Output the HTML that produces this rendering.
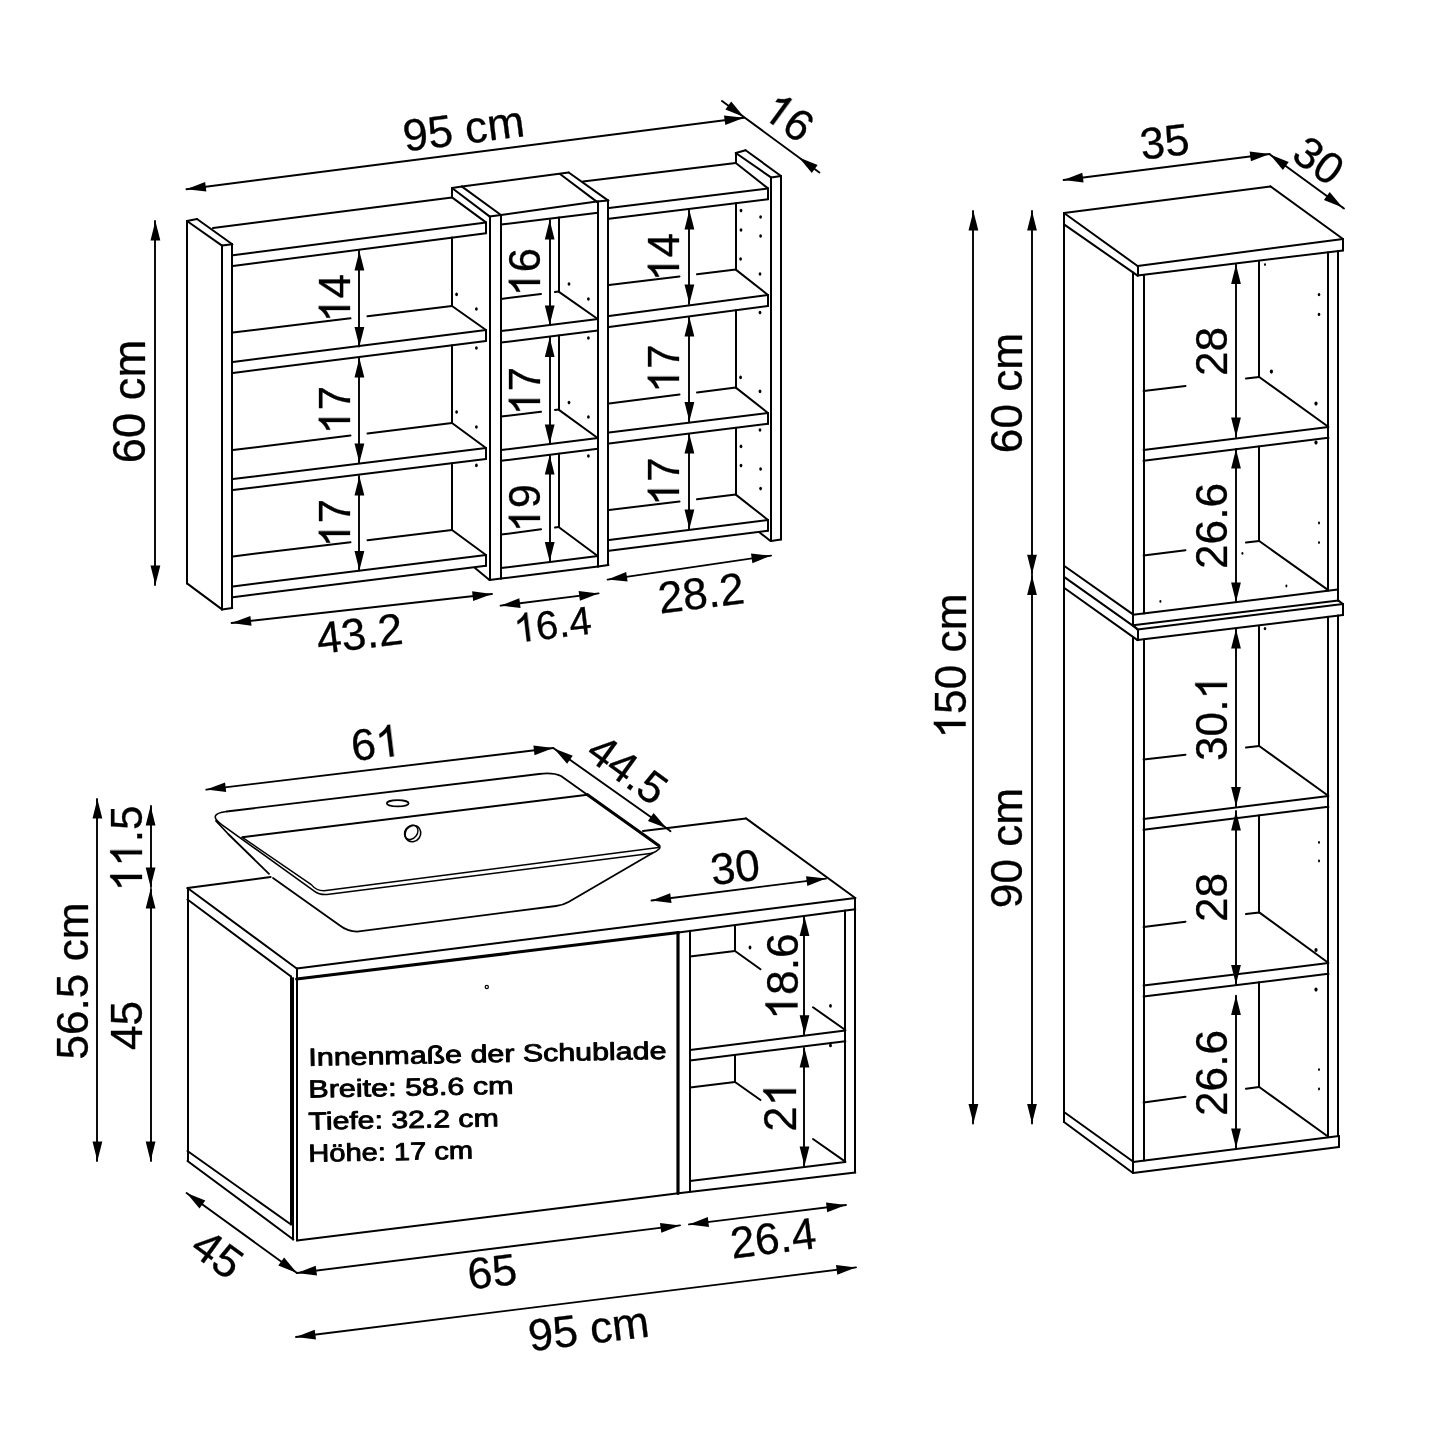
<!DOCTYPE html>
<html lang="de"><head><meta charset="utf-8"><title>Maße</title>
<style>
html,body{margin:0;padding:0;background:#fff}
svg{display:block;will-change:transform}
text{font-family:"Liberation Sans",sans-serif;fill:#000;white-space:pre}
</style></head><body>
<svg width="1445" height="1445" viewBox="0 0 1445 1445" fill="none" stroke="#000" stroke-linecap="round" stroke-linejoin="round">
<rect width="1445" height="1445" fill="#fff" stroke="none"/>
<path d="M187 221L222 245.6" stroke-width="2"/>
<path d="M222 245.6L222 609.4" stroke-width="2"/>
<path d="M222 609.4L187 583.4" stroke-width="2"/>
<path d="M187 583.4L187 221" stroke-width="2"/>
<path d="M187 221L197 219" stroke-width="2"/>
<path d="M197 219L232.3 244.2" stroke-width="2"/>
<path d="M232.3 244.2L222 245.6" stroke-width="2"/>
<path d="M232 244.2L232 608" stroke-width="2"/>
<path d="M232.3 608L222 609.4" stroke-width="2"/>
<path d="M232.9 255.3L486 222.4" stroke-width="2"/>
<path d="M232.9 266.1L486 233.2" stroke-width="2"/>
<path d="M486 222.4L486 233.2" stroke-width="2"/>
<path d="M213 228L452 197.4" stroke-width="2"/>
<path d="M452 197.4L486 222.4" stroke-width="2"/>
<path d="M232.9 362L486 330" stroke-width="2"/>
<path d="M232.9 373L486 341" stroke-width="2"/>
<path d="M486 330L486 341" stroke-width="2"/>
<path d="M232.9 332.6L350.5 318.3" stroke-width="2"/>
<path d="M367.5 316.3L452 306" stroke-width="2"/>
<path d="M452 306L486 330" stroke-width="2"/>
<path d="M452 237.6L452 306" stroke-width="2"/>
<path d="M232.9 479L486 448" stroke-width="2"/>
<path d="M232.9 490L486 459" stroke-width="2"/>
<path d="M486 448L486 459" stroke-width="2"/>
<path d="M232.9 450L350.5 435.5" stroke-width="2"/>
<path d="M367.5 433.4L452 423" stroke-width="2"/>
<path d="M452 423L486 448" stroke-width="2"/>
<path d="M452 345.3L452 423" stroke-width="2"/>
<path d="M232.9 586.4L486 555" stroke-width="2"/>
<path d="M232.9 597.2L486 565.8" stroke-width="2"/>
<path d="M486 555L486 565.8" stroke-width="2"/>
<path d="M232.9 556.4L350.5 542.2" stroke-width="2"/>
<path d="M367.5 540.2L452 530" stroke-width="2"/>
<path d="M452 530L486 555" stroke-width="2"/>
<path d="M452 463.2L452 530" stroke-width="2"/>
<ellipse cx="456.6" cy="294.4" rx="1.4" ry="1.8" fill="#000" stroke="none"/>
<ellipse cx="476.4" cy="309" rx="1.4" ry="1.8" fill="#000" stroke="none"/>
<ellipse cx="476.4" cy="348" rx="1.4" ry="1.8" fill="#000" stroke="none"/>
<ellipse cx="456.6" cy="412" rx="1.4" ry="1.8" fill="#000" stroke="none"/>
<ellipse cx="476.4" cy="427" rx="1.4" ry="1.8" fill="#000" stroke="none"/>
<ellipse cx="476.4" cy="465.4" rx="1.4" ry="1.8" fill="#000" stroke="none"/>
<path d="M452 197.4L452 188" stroke-width="2"/>
<path d="M452 188L462 186.6" stroke-width="2"/>
<path d="M462 186.6L501 215" stroke-width="2"/>
<path d="M501 215L489.5 216.4" stroke-width="2"/>
<path d="M489.5 216.4L452 188" stroke-width="2"/>
<path d="M490 216.4L490 580" stroke-width="2"/>
<path d="M489.5 580L501 578.6" stroke-width="2"/>
<path d="M501 215L501 578.6" stroke-width="2"/>
<path d="M475 568L489.5 580" stroke-width="2"/>
<path d="M462 186.6L568.7 172.5" stroke-width="2"/>
<path d="M501 215L596.7 201.6" stroke-width="2"/>
<path d="M501 224.6L598 212.8" stroke-width="2"/>
<path d="M560 174L596.7 201.6" stroke-width="2"/>
<path d="M596.7 201.6L608.3 200.6" stroke-width="2"/>
<path d="M608.3 200.6L568.7 172.5" stroke-width="2"/>
<path d="M598 201.6L598 566.6" stroke-width="2"/>
<path d="M598 566.6L608.5 565" stroke-width="2"/>
<path d="M608 565L608 200.6" stroke-width="2"/>
<path d="M501 331L598 319" stroke-width="2"/>
<path d="M501 342.5L598 330.5" stroke-width="2"/>
<path d="M501 299L541 293.9" stroke-width="2"/>
<path d="M555 292.1L558.6 291.6" stroke-width="2"/>
<path d="M558.6 291.6L597 318.5" stroke-width="2"/>
<path d="M559 217.6L559 291.6" stroke-width="2"/>
<path d="M501 450L598 438" stroke-width="2"/>
<path d="M501 460.8L598 448.8" stroke-width="2"/>
<path d="M501 416.6L541 411.7" stroke-width="2"/>
<path d="M555 410L558.6 409.6" stroke-width="2"/>
<path d="M558.6 409.6L597 437.5" stroke-width="2"/>
<path d="M559 335.4L559 409.6" stroke-width="2"/>
<path d="M501 568L598 556" stroke-width="2"/>
<path d="M501 578.6L598 566.6" stroke-width="2"/>
<path d="M501 534.6L541 529.3" stroke-width="2"/>
<path d="M555 527.5L558.6 527" stroke-width="2"/>
<path d="M558.6 527L597 555.5" stroke-width="2"/>
<path d="M559 453.7L559 527" stroke-width="2"/>
<ellipse cx="569" cy="284" rx="1.4" ry="1.8" fill="#000" stroke="none"/>
<ellipse cx="588.4" cy="299" rx="1.4" ry="1.8" fill="#000" stroke="none"/>
<ellipse cx="588.4" cy="338" rx="1.4" ry="1.8" fill="#000" stroke="none"/>
<ellipse cx="569" cy="402.6" rx="1.4" ry="1.8" fill="#000" stroke="none"/>
<ellipse cx="588.4" cy="417" rx="1.4" ry="1.8" fill="#000" stroke="none"/>
<ellipse cx="588.4" cy="456" rx="1.4" ry="1.8" fill="#000" stroke="none"/>
<path d="M583 181.6L735.8 163" stroke-width="2"/>
<path d="M609 208L768 188.4" stroke-width="2"/>
<path d="M609 218.8L768 199.2" stroke-width="2"/>
<path d="M768 188.4L768 199.2" stroke-width="2"/>
<path d="M735.8 163L768 188.4" stroke-width="2"/>
<path d="M609 316L768 295" stroke-width="2"/>
<path d="M609 327L768 306" stroke-width="2"/>
<path d="M768 295L768 306" stroke-width="2"/>
<path d="M609 285L679.5 276.4" stroke-width="2"/>
<path d="M697 274.3L735.8 269.6" stroke-width="2"/>
<path d="M735.8 269.6L768 295" stroke-width="2"/>
<path d="M736 203.2L736 269.6" stroke-width="2"/>
<path d="M609 432.6L768 413" stroke-width="2"/>
<path d="M609 443.4L768 423.8" stroke-width="2"/>
<path d="M768 413L768 423.8" stroke-width="2"/>
<path d="M609 403.4L679.5 394.6" stroke-width="2"/>
<path d="M697 392.4L735.8 387.6" stroke-width="2"/>
<path d="M735.8 387.6L768 413" stroke-width="2"/>
<path d="M736 310.3L736 387.6" stroke-width="2"/>
<path d="M609 540L768 520" stroke-width="2"/>
<path d="M609 550.7L768 530.7" stroke-width="2"/>
<path d="M768 520L768 530.7" stroke-width="2"/>
<path d="M609 510L679.5 501.4" stroke-width="2"/>
<path d="M697 499.3L735.8 494.6" stroke-width="2"/>
<path d="M735.8 494.6L768 520" stroke-width="2"/>
<path d="M736 427.8L736 494.6" stroke-width="2"/>
<path d="M736 163L736 153" stroke-width="2"/>
<path d="M735.8 153L745.6 150.2" stroke-width="2"/>
<path d="M745.6 150.2L781 176" stroke-width="2"/>
<path d="M781 176L771 177.4" stroke-width="2"/>
<path d="M771 177.4L735.8 153" stroke-width="2"/>
<path d="M771 177.4L771 541" stroke-width="2"/>
<path d="M771 541L781 539.6" stroke-width="2"/>
<path d="M781 539.6L781 176" stroke-width="2"/>
<path d="M759 532L770.5 541" stroke-width="2"/>
<ellipse cx="741" cy="210.6" rx="1.4" ry="1.8" fill="#000" stroke="none"/>
<ellipse cx="741" cy="230" rx="1.4" ry="1.8" fill="#000" stroke="none"/>
<ellipse cx="740.6" cy="259" rx="1.4" ry="1.8" fill="#000" stroke="none"/>
<ellipse cx="760.6" cy="217" rx="1.4" ry="1.8" fill="#000" stroke="none"/>
<ellipse cx="760.6" cy="236" rx="1.4" ry="1.8" fill="#000" stroke="none"/>
<ellipse cx="760" cy="274" rx="1.4" ry="1.8" fill="#000" stroke="none"/>
<ellipse cx="760" cy="312.6" rx="1.4" ry="1.8" fill="#000" stroke="none"/>
<ellipse cx="740.6" cy="377.4" rx="1.4" ry="1.8" fill="#000" stroke="none"/>
<ellipse cx="760" cy="391.4" rx="1.4" ry="1.8" fill="#000" stroke="none"/>
<ellipse cx="760" cy="430" rx="1.4" ry="1.8" fill="#000" stroke="none"/>
<ellipse cx="741" cy="446.4" rx="1.4" ry="1.8" fill="#000" stroke="none"/>
<ellipse cx="741" cy="465.6" rx="1.4" ry="1.8" fill="#000" stroke="none"/>
<ellipse cx="760.6" cy="469" rx="1.4" ry="1.8" fill="#000" stroke="none"/>
<ellipse cx="760.6" cy="488.6" rx="1.4" ry="1.8" fill="#000" stroke="none"/>
<path d="M186.4 189.2L744 117.8" stroke-width="1.9"/>
<path d="M186.4 189.2L205.1 181.9L206.4 191.6Z" fill="#000" stroke="none"/>
<path d="M744 117.8L725.3 125.1L724 115.4Z" fill="#000" stroke="none"/>
<g transform="translate(463.5 128) rotate(-7.3) translate(0 16)"><text x="-61" font-size="44.8" stroke-width="0.3">95&#160;cm</text></g>
<path d="M722 101L819.4 172.4" stroke-width="1.9"/>
<path d="M744 117L725.4 109.4L731.2 101.5Z" fill="#000" stroke="none"/>
<path d="M799 157.4L817.6 165L811.8 172.9Z" fill="#000" stroke="none"/>
<g transform="translate(789 117) rotate(36.2) translate(0 15.8)"><path transform="translate(-24.6 0) scale(0.02158 -0.02158)" d="M763 0H583V1147Q518 1085 412.5 1023Q307 961 223 930V1104Q374 1175 487 1276Q600 1377 647 1472H763Z" fill="#000" stroke-width="13.9"/><text x="0" font-size="44.2" stroke-width="0.3">6</text></g>
<path d="M155 221L155 585" stroke-width="1.9"/>
<path d="M155.4 221L160.3 240.5L150.5 240.5Z" fill="#000" stroke="none"/>
<path d="M155.4 585L150.5 565.5L160.3 565.5Z" fill="#000" stroke="none"/>
<g transform="translate(145.2 401.5) rotate(-90)"><text x="-61.7" font-size="45.3" stroke-width="0.3">60&#160;cm</text></g>
<path d="M359 251L359 346.5" stroke-width="1.9"/>
<path d="M359.4 251L364.3 270.5L354.5 270.5Z" fill="#000" stroke="none"/>
<path d="M359.4 346.5L354.5 327L364.3 327Z" fill="#000" stroke="none"/>
<g transform="translate(350 298.2) rotate(-90)"><path transform="translate(-24.2 0) scale(0.02124 -0.02124)" d="M763 0H583V1147Q518 1085 412.5 1023Q307 961 223 930V1104Q374 1175 487 1276Q600 1377 647 1472H763Z" fill="#000" stroke-width="14.1"/><text x="0" font-size="43.5" stroke-width="0.3">4</text></g>
<path d="M359 358L359 463" stroke-width="1.9"/>
<path d="M359.4 358L364.3 377.5L354.5 377.5Z" fill="#000" stroke="none"/>
<path d="M359.4 463L354.5 443.5L364.3 443.5Z" fill="#000" stroke="none"/>
<g transform="translate(350 410.2) rotate(-90)"><path transform="translate(-24.2 0) scale(0.02124 -0.02124)" d="M763 0H583V1147Q518 1085 412.5 1023Q307 961 223 930V1104Q374 1175 487 1276Q600 1377 647 1472H763Z" fill="#000" stroke-width="14.1"/><text x="0" font-size="43.5" stroke-width="0.3">7</text></g>
<path d="M359 476L359 570.5" stroke-width="1.9"/>
<path d="M359.4 476L364.3 495.5L354.5 495.5Z" fill="#000" stroke="none"/>
<path d="M359.4 570.5L354.5 551L364.3 551Z" fill="#000" stroke="none"/>
<g transform="translate(350 523.2) rotate(-90)"><path transform="translate(-24.2 0) scale(0.02124 -0.02124)" d="M763 0H583V1147Q518 1085 412.5 1023Q307 961 223 930V1104Q374 1175 487 1276Q600 1377 647 1472H763Z" fill="#000" stroke-width="14.1"/><text x="0" font-size="43.5" stroke-width="0.3">7</text></g>
<path d="M550 220L550 325" stroke-width="1.9"/>
<path d="M549.7 220L554.6 239.5L544.8 239.5Z" fill="#000" stroke="none"/>
<path d="M549.7 325L544.8 305.5L554.6 305.5Z" fill="#000" stroke="none"/>
<g transform="translate(540 272.2) rotate(-90)"><path transform="translate(-24.2 0) scale(0.02124 -0.02124)" d="M763 0H583V1147Q518 1085 412.5 1023Q307 961 223 930V1104Q374 1175 487 1276Q600 1377 647 1472H763Z" fill="#000" stroke-width="14.1"/><text x="0" font-size="43.5" stroke-width="0.3">6</text></g>
<path d="M550 337.5L550 444" stroke-width="1.9"/>
<path d="M549.7 337.5L554.6 357L544.8 357Z" fill="#000" stroke="none"/>
<path d="M549.7 444L544.8 424.5L554.6 424.5Z" fill="#000" stroke="none"/>
<g transform="translate(540 391.2) rotate(-90)"><path transform="translate(-24.2 0) scale(0.02124 -0.02124)" d="M763 0H583V1147Q518 1085 412.5 1023Q307 961 223 930V1104Q374 1175 487 1276Q600 1377 647 1472H763Z" fill="#000" stroke-width="14.1"/><text x="0" font-size="43.5" stroke-width="0.3">7</text></g>
<path d="M550 455L550 561.5" stroke-width="1.9"/>
<path d="M549.7 455L554.6 474.5L544.8 474.5Z" fill="#000" stroke="none"/>
<path d="M549.7 561.5L544.8 542L554.6 542Z" fill="#000" stroke="none"/>
<g transform="translate(540 508.2) rotate(-90)"><path transform="translate(-24.2 0) scale(0.02124 -0.02124)" d="M763 0H583V1147Q518 1085 412.5 1023Q307 961 223 930V1104Q374 1175 487 1276Q600 1377 647 1472H763Z" fill="#000" stroke-width="14.1"/><text x="0" font-size="43.5" stroke-width="0.3">9</text></g>
<path d="M689 210L689 304" stroke-width="1.9"/>
<path d="M689.4 210L694.3 229.5L684.5 229.5Z" fill="#000" stroke="none"/>
<path d="M689.4 304L684.5 284.5L694.3 284.5Z" fill="#000" stroke="none"/>
<g transform="translate(679 257.2) rotate(-90)"><path transform="translate(-24.2 0) scale(0.02124 -0.02124)" d="M763 0H583V1147Q518 1085 412.5 1023Q307 961 223 930V1104Q374 1175 487 1276Q600 1377 647 1472H763Z" fill="#000" stroke-width="14.1"/><text x="0" font-size="43.5" stroke-width="0.3">4</text></g>
<path d="M689 317L689 421.5" stroke-width="1.9"/>
<path d="M689.4 317L694.3 336.5L684.5 336.5Z" fill="#000" stroke="none"/>
<path d="M689.4 421.5L684.5 402L694.3 402Z" fill="#000" stroke="none"/>
<g transform="translate(679 368.7) rotate(-90)"><path transform="translate(-24.2 0) scale(0.02124 -0.02124)" d="M763 0H583V1147Q518 1085 412.5 1023Q307 961 223 930V1104Q374 1175 487 1276Q600 1377 647 1472H763Z" fill="#000" stroke-width="14.1"/><text x="0" font-size="43.5" stroke-width="0.3">7</text></g>
<path d="M689 434L689 529" stroke-width="1.9"/>
<path d="M689.4 434L694.3 453.5L684.5 453.5Z" fill="#000" stroke="none"/>
<path d="M689.4 529L684.5 509.5L694.3 509.5Z" fill="#000" stroke="none"/>
<g transform="translate(679 481.7) rotate(-90)"><path transform="translate(-24.2 0) scale(0.02124 -0.02124)" d="M763 0H583V1147Q518 1085 412.5 1023Q307 961 223 930V1104Q374 1175 487 1276Q600 1377 647 1472H763Z" fill="#000" stroke-width="14.1"/><text x="0" font-size="43.5" stroke-width="0.3">7</text></g>
<path d="M231.6 623L492 594" stroke-width="1.9"/>
<path d="M231.6 623L250.4 616L251.5 625.7Z" fill="#000" stroke="none"/>
<path d="M492 594L473.2 601L472.1 591.3Z" fill="#000" stroke="none"/>
<g transform="translate(359.5 633) rotate(-6.8) translate(0 15.9)"><text x="-43.3" font-size="44.5" stroke-width="0.3">43.2</text></g>
<path d="M500.6 605.6L598.6 593.4" stroke-width="1.9"/>
<path d="M500.6 605.6L519.3 598.3L520.6 608.1Z" fill="#000" stroke="none"/>
<path d="M598.6 593.4L579.9 600.7L578.6 590.9Z" fill="#000" stroke="none"/>
<g transform="translate(552.5 624) rotate(-6.8) translate(0 14.3)"><path transform="translate(-38.9 0) scale(0.01953 -0.01953)" d="M763 0H583V1147Q518 1085 412.5 1023Q307 961 223 930V1104Q374 1175 487 1276Q600 1377 647 1472H763Z" fill="#000" stroke-width="15.4"/><text x="-16.7" font-size="40" stroke-width="0.3">6.4</text></g>
<path d="M607.6 579.6L771 555.6" stroke-width="1.9"/>
<path d="M607.6 579.6L626.2 571.9L627.6 581.6Z" fill="#000" stroke="none"/>
<path d="M771 555.6L752.4 563.3L751 553.6Z" fill="#000" stroke="none"/>
<g transform="translate(701 592.5) rotate(-6.8) translate(0 15.9)"><text x="-43.3" font-size="44.5" stroke-width="0.3">28.2</text></g>
<path d="M1064 213L1270.4 186.4" stroke-width="2"/>
<path d="M1270.4 186.4L1343 239" stroke-width="2"/>
<path d="M1343 239L1137.6 266" stroke-width="2"/>
<path d="M1137.6 266L1064 213" stroke-width="2"/>
<path d="M1064 213L1064 224.4" stroke-width="2"/>
<path d="M1064 224.4L1137.6 275.6" stroke-width="2"/>
<path d="M1138 275.6L1138 266" stroke-width="2"/>
<path d="M1137.6 275.6L1343 250.4" stroke-width="2"/>
<path d="M1343 250.4L1343 239" stroke-width="2"/>
<path d="M1064 224.4L1064 1122" stroke-width="2"/>
<path d="M1133 272.4L1133 625.2" stroke-width="2"/>
<path d="M1144 275L1144 613.4" stroke-width="2"/>
<path d="M1328 252.2L1328 590.7" stroke-width="2"/>
<path d="M1338 251L1338 600.6" stroke-width="2"/>
<path d="M1133 614.7L1337.8 589.6" stroke-width="2"/>
<path d="M1133 625.2L1338.4 600.6" stroke-width="2"/>
<path d="M1133 625.2L1137.5 629.5" stroke-width="2"/>
<path d="M1137.5 629.5L1343 604" stroke-width="2"/>
<path d="M1343 604L1338.4 600.6" stroke-width="2"/>
<path d="M1138 629.5L1138 640.1" stroke-width="2"/>
<path d="M1137.5 640.1L1343 615" stroke-width="2"/>
<path d="M1343 615L1343 604" stroke-width="2"/>
<path d="M1064 565.7L1133 614.4" stroke-width="2"/>
<path d="M1064 576.9L1137 628.6" stroke-width="2"/>
<path d="M1064 587.8L1137.5 640.1" stroke-width="2"/>
<path d="M1133 637.5L1133 1173" stroke-width="2"/>
<path d="M1144 639.4L1144 1160.6" stroke-width="2"/>
<path d="M1328 616.8L1328 1137.2" stroke-width="2"/>
<path d="M1338 615.6L1338 1136" stroke-width="2"/>
<path d="M1133 1162L1339 1136" stroke-width="2"/>
<path d="M1339 1136L1339 1147" stroke-width="2"/>
<path d="M1339 1147L1133 1173" stroke-width="2"/>
<path d="M1064 1112L1133 1161.5" stroke-width="2"/>
<path d="M1064 1122L1133 1173" stroke-width="2"/>
<path d="M1143.6 450L1328.4 427" stroke-width="2"/>
<path d="M1143.6 460.8L1328.4 437.8" stroke-width="2"/>
<path d="M1143.6 391L1185.5 385.9" stroke-width="2"/>
<path d="M1246 378.6L1259.2 377" stroke-width="2"/>
<path d="M1259.2 377L1327.9 426.5" stroke-width="2"/>
<path d="M1259 261.6L1259 377" stroke-width="2"/>
<path d="M1143.6 555.4L1185.5 550.2" stroke-width="2"/>
<path d="M1246 542.6L1259.2 541" stroke-width="2"/>
<path d="M1259.2 541L1327.9 589.9" stroke-width="2"/>
<path d="M1259 446.4L1259 541" stroke-width="2"/>
<path d="M1143.6 819L1328.4 796" stroke-width="2"/>
<path d="M1143.6 829.8L1328.4 806.8" stroke-width="2"/>
<path d="M1143.6 759.6L1185.5 754.7" stroke-width="2"/>
<path d="M1246 747.6L1259.2 746" stroke-width="2"/>
<path d="M1259.2 746L1327.9 795.5" stroke-width="2"/>
<path d="M1259 626.2L1259 746" stroke-width="2"/>
<path d="M1143.6 985.6L1328.4 963" stroke-width="2"/>
<path d="M1143.6 996.4L1328.4 973.8" stroke-width="2"/>
<path d="M1143.6 927L1185.5 921.7" stroke-width="2"/>
<path d="M1246 914.1L1259.2 912.4" stroke-width="2"/>
<path d="M1259.2 912.4L1327.9 962.5" stroke-width="2"/>
<path d="M1259 815.4L1259 912.4" stroke-width="2"/>
<path d="M1143.6 1102.4L1185.5 1096.8" stroke-width="2"/>
<path d="M1246 1088.8L1259.2 1087" stroke-width="2"/>
<path d="M1259.2 1087L1327.9 1136.5" stroke-width="2"/>
<path d="M1259 982.3L1259 1087" stroke-width="2"/>
<ellipse cx="1271.4" cy="371.6" rx="1.6" ry="2.1" fill="#000" stroke="none"/>
<ellipse cx="1316" cy="403.6" rx="1.6" ry="2.1" fill="#000" stroke="none"/>
<ellipse cx="1316" cy="442.6" rx="1.6" ry="2.1" fill="#000" stroke="none"/>
<ellipse cx="1316" cy="950" rx="1.6" ry="2.1" fill="#000" stroke="none"/>
<ellipse cx="1316" cy="989.6" rx="1.6" ry="2.1" fill="#000" stroke="none"/>
<ellipse cx="1319" cy="294.6" rx="1.3" ry="1.7" fill="#000" stroke="none"/>
<ellipse cx="1319" cy="314.4" rx="1.3" ry="1.7" fill="#000" stroke="none"/>
<ellipse cx="1265" cy="628.6" rx="1.3" ry="1.7" fill="#000" stroke="none"/>
<ellipse cx="1265" cy="264.6" rx="1" ry="1.4" fill="#000" stroke="none"/>
<ellipse cx="1319" cy="523" rx="1" ry="1.4" fill="#000" stroke="none"/>
<ellipse cx="1319" cy="542.6" rx="1" ry="1.4" fill="#000" stroke="none"/>
<ellipse cx="1242.4" cy="553.4" rx="1" ry="1.4" fill="#000" stroke="none"/>
<ellipse cx="1286.4" cy="586" rx="1" ry="1.4" fill="#000" stroke="none"/>
<ellipse cx="1160.4" cy="601.4" rx="1" ry="1.4" fill="#000" stroke="none"/>
<ellipse cx="1319" cy="842.4" rx="1" ry="1.4" fill="#000" stroke="none"/>
<ellipse cx="1319" cy="861" rx="1" ry="1.4" fill="#000" stroke="none"/>
<ellipse cx="1319" cy="1069.6" rx="1" ry="1.4" fill="#000" stroke="none"/>
<ellipse cx="1319" cy="1089" rx="1" ry="1.4" fill="#000" stroke="none"/>
<path d="M1063.6 180L1269.6 154" stroke-width="1.9"/>
<path d="M1063.6 180L1082.3 172.7L1083.6 182.4Z" fill="#000" stroke="none"/>
<path d="M1269.6 154L1250.9 161.3L1249.6 151.6Z" fill="#000" stroke="none"/>
<g transform="translate(1164.5 141) rotate(-7.2) translate(0 15.8)"><text x="-24.6" font-size="44.2" stroke-width="0.3">35</text></g>
<path d="M1270 154.6L1342.6 207.4" stroke-width="1.9"/>
<path d="M1270 154.6L1288.7 162.1L1282.9 170Z" fill="#000" stroke="none"/>
<path d="M1342.6 207.4L1323.9 199.9L1329.7 192Z" fill="#000" stroke="none"/>
<path d="M1342.6 207.4L1344 208.4" stroke-width="1.9"/>
<g transform="translate(1319 160) rotate(36.2) translate(0 15.8)"><text x="-24.6" font-size="44.2" stroke-width="0.3">30</text></g>
<path d="M973 211L973 1123.6" stroke-width="1.9"/>
<path d="M973.4 211L978.3 230.5L968.5 230.5Z" fill="#000" stroke="none"/>
<path d="M973.4 1123.6L968.5 1104.1L978.3 1104.1Z" fill="#000" stroke="none"/>
<g transform="translate(965.6 666) rotate(-90)"><path transform="translate(-72.5 0) scale(0.02158 -0.02158)" d="M763 0H583V1147Q518 1085 412.5 1023Q307 961 223 930V1104Q374 1175 487 1276Q600 1377 647 1472H763Z" fill="#000" stroke-width="13.9"/><text x="-47.9" font-size="44.2" stroke-width="0.3">50&#160;cm</text></g>
<path d="M1032 211L1032 574.2" stroke-width="1.9"/>
<path d="M1032 211L1036.9 230.5L1027.1 230.5Z" fill="#000" stroke="none"/>
<path d="M1032 574.2L1027.1 554.7L1036.9 554.7Z" fill="#000" stroke="none"/>
<g transform="translate(1022 393) rotate(-90)"><text x="-60.2" font-size="44.2" stroke-width="0.3">60&#160;cm</text></g>
<path d="M1032 575.6L1032 1123.6" stroke-width="1.9"/>
<path d="M1032 575.6L1036.9 595.1L1027.1 595.1Z" fill="#000" stroke="none"/>
<path d="M1032 1123.6L1027.1 1104.1L1036.9 1104.1Z" fill="#000" stroke="none"/>
<g transform="translate(1022 848) rotate(-90)"><text x="-60.2" font-size="44.2" stroke-width="0.3">90&#160;cm</text></g>
<path d="M1236 264.4L1236 437" stroke-width="1.9"/>
<path d="M1236 264.4L1240.9 283.9L1231.1 283.9Z" fill="#000" stroke="none"/>
<path d="M1236 437L1231.1 417.5L1240.9 417.5Z" fill="#000" stroke="none"/>
<g transform="translate(1227 351.5) rotate(-90)"><text x="-24.6" font-size="44.2" stroke-width="0.3">28</text></g>
<path d="M1236 449L1236 602" stroke-width="1.9"/>
<path d="M1236 449L1240.9 468.5L1231.1 468.5Z" fill="#000" stroke="none"/>
<path d="M1236 602L1231.1 582.5L1240.9 582.5Z" fill="#000" stroke="none"/>
<g transform="translate(1227 526) rotate(-90)"><text x="-43" font-size="44.2" stroke-width="0.3">26.6</text></g>
<path d="M1236 629L1236 806.5" stroke-width="1.9"/>
<path d="M1236 629L1240.9 648.5L1231.1 648.5Z" fill="#000" stroke="none"/>
<path d="M1236 806.5L1231.1 787L1240.9 787Z" fill="#000" stroke="none"/>
<g transform="translate(1227 718) rotate(-90)"><text x="-43" font-size="44.2" stroke-width="0.3">30.</text><path transform="translate(18.4 0) scale(0.02158 -0.02158)" d="M763 0H583V1147Q518 1085 412.5 1023Q307 961 223 930V1104Q374 1175 487 1276Q600 1377 647 1472H763Z" fill="#000" stroke-width="13.9"/></g>
<path d="M1236 811L1236 984.4" stroke-width="1.9"/>
<path d="M1236 811L1240.9 830.5L1231.1 830.5Z" fill="#000" stroke="none"/>
<path d="M1236 984.4L1231.1 964.9L1240.9 964.9Z" fill="#000" stroke="none"/>
<g transform="translate(1227 897.5) rotate(-90)"><text x="-24.6" font-size="44.2" stroke-width="0.3">28</text></g>
<path d="M1236 995.6L1236 1148" stroke-width="1.9"/>
<path d="M1236 995.6L1240.9 1015.1L1231.1 1015.1Z" fill="#000" stroke="none"/>
<path d="M1236 1148L1231.1 1128.5L1240.9 1128.5Z" fill="#000" stroke="none"/>
<g transform="translate(1227 1073) rotate(-90)"><text x="-43" font-size="44.2" stroke-width="0.3">26.6</text></g>
<path d="M187.5 888L270.6 877" stroke-width="2"/>
<path d="M643 831L746 818.4" stroke-width="2"/>
<path d="M746 818.4L855.3 898" stroke-width="2"/>
<path d="M187.5 888L296.7 968.5" stroke-width="2"/>
<path d="M187.5 899.5L291 976.5" stroke-width="2"/>
<path d="M296.7 968.5L855.3 898" stroke-width="2"/>
<path d="M297 968.5L297 979" stroke-width="2"/>
<path d="M678.4 932.5L855.3 909.2" stroke-width="2"/>
<path d="M296.7 979L678.4 932.5" stroke-width="3.2"/>
<path d="M188 888L188 1161" stroke-width="2"/>
<path d="M187.5 1151L291 1224.5" stroke-width="2"/>
<path d="M187.5 1161L293.3 1239.5" stroke-width="2"/>
<path d="M291 976.5L291 1224.5" stroke-width="2"/>
<path d="M293 978L293 1239.5" stroke-width="2"/>
<path d="M297 979L297 1240.5" stroke-width="2"/>
<path d="M297 1240.5L678.4 1193.3" stroke-width="2"/>
<path d="M678 932.5L678 1193.3" stroke-width="3.2"/>
<path d="M690 930.8L690 1191.6" stroke-width="2"/>
<path d="M845 910.4L845 1162" stroke-width="2"/>
<path d="M855 898L855 1172.4" stroke-width="2"/>
<path d="M735 925.2L735 951" stroke-width="2"/>
<path d="M690 956.5L735 951" stroke-width="2"/>
<path d="M735 951L760.5 969.3" stroke-width="2"/>
<path d="M690 1050L845.3 1030.4" stroke-width="2"/>
<path d="M690 1060.6L845.3 1041.2" stroke-width="2"/>
<path d="M813 1007.3L845.3 1030" stroke-width="2"/>
<path d="M735 1055.2L735 1082" stroke-width="2"/>
<path d="M690 1087.6L735 1082" stroke-width="2"/>
<path d="M735 1082L760.5 1100" stroke-width="2"/>
<path d="M690 1181L845.3 1162" stroke-width="2"/>
<path d="M678.4 1193.3L855.3 1172.4" stroke-width="2"/>
<path d="M813 1139L845.3 1161.6" stroke-width="2"/>
<ellipse cx="750" cy="947.5" rx="1.4" ry="1.9" fill="#000" stroke="none"/>
<ellipse cx="830.5" cy="1005.8" rx="1.4" ry="1.9" fill="#000" stroke="none"/>
<ellipse cx="830.5" cy="1045.4" rx="1.4" ry="1.9" fill="#000" stroke="none"/>
<circle cx="486.8" cy="987" r="1.6" fill="#fff" stroke-width="1.2"/>
<path d="M226.6 811.5L539 774Q553 772.3 561 776L659 845.7" stroke-width="1.8" fill="none"/>
<path d="M587.5 794.7L659 845.7" stroke-width="3" fill="none"/>
<path d="M659 845.7Q662.5 848.6 652.2 853.3" stroke-width="1.6" fill="none"/>
<path d="M658.5 847.6L326 890.6Q317 891.6 311.3 884.6L242.3 837.3" stroke-width="1.5" fill="none"/>
<path d="M652.2 853.3L329 894.2Q320 895.4 314.6 891.3L222 824.8Q206.5 814 226.6 811.5" stroke-width="1.6" fill="none"/>
<path d="M242.3 837.3L587.5 794.7" stroke-width="2"/>
<path d="M216 821L228.2 834L269 873.8" stroke-width="1.8" fill="none"/>
<path d="M273 878L339.5 925.3Q347.5 931.5 357 931.6L556 906Q563.5 905 568.5 902L652.2 853.3" stroke-width="1.8" fill="none"/>
<ellipse cx="397.7" cy="803.3" rx="10.9" ry="3.1" fill="none" stroke-width="1.7"/>
<ellipse cx="412.9" cy="833.6" rx="7.6" ry="8.4" transform="rotate(35 412.9 833.6)" fill="none" stroke-width="1.6"/>
<ellipse cx="411.2" cy="832.3" rx="6.1" ry="7.7" transform="rotate(38 411.2 832.3)" fill="none" stroke-width="1.4"/>
<path d="M97 799L97 1161" stroke-width="1.9"/>
<path d="M97.4 799L102.3 818.5L92.5 818.5Z" fill="#000" stroke="none"/>
<path d="M97.4 1161L92.5 1141.5L102.3 1141.5Z" fill="#000" stroke="none"/>
<g transform="translate(88 981) rotate(-90)"><text x="-78.6" font-size="44.2" stroke-width="0.3">56.5&#160;cm</text></g>
<path d="M151 806L151 887" stroke-width="1.9"/>
<path d="M150.6 806L155.5 825.5L145.7 825.5Z" fill="#000" stroke="none"/>
<path d="M150.6 887L145.7 867.5L155.5 867.5Z" fill="#000" stroke="none"/>
<g transform="translate(142 848.5) rotate(-90)"><path transform="translate(-43 0) scale(0.02158 -0.02158)" d="M763 0H583V1147Q518 1085 412.5 1023Q307 961 223 930V1104Q374 1175 487 1276Q600 1377 647 1472H763Z" fill="#000" stroke-width="13.9"/><path transform="translate(-18.4 0) scale(0.02158 -0.02158)" d="M763 0H583V1147Q518 1085 412.5 1023Q307 961 223 930V1104Q374 1175 487 1276Q600 1377 647 1472H763Z" fill="#000" stroke-width="13.9"/><text x="6.2" font-size="44.2" stroke-width="0.3">.5</text></g>
<path d="M151 889L151 1161" stroke-width="1.9"/>
<path d="M150.6 889L155.5 908.5L145.7 908.5Z" fill="#000" stroke="none"/>
<path d="M150.6 1161L145.7 1141.5L155.5 1141.5Z" fill="#000" stroke="none"/>
<g transform="translate(142 1025.5) rotate(-90)"><text x="-24.6" font-size="44.2" stroke-width="0.3">45</text></g>
<path d="M206.3 789.6L553.3 748" stroke-width="1.9"/>
<path d="M206.3 789.6L225.1 782.4L226.2 792.1Z" fill="#000" stroke="none"/>
<path d="M553.3 748L534.5 755.2L533.4 745.5Z" fill="#000" stroke="none"/>
<g transform="translate(375.5 742.5) rotate(-7) translate(0 15.8)"><text x="-24.6" font-size="44.2" stroke-width="0.3">6</text><path transform="translate(0 0) scale(0.02158 -0.02158)" d="M763 0H583V1147Q518 1085 412.5 1023Q307 961 223 930V1104Q374 1175 487 1276Q600 1377 647 1472H763Z" fill="#000" stroke-width="13.9"/></g>
<path d="M554 748.5L666.7 828.2" stroke-width="1.9"/>
<path d="M554 748.5L572.8 755.8L567.1 763.8Z" fill="#000" stroke="none"/>
<path d="M666.7 828.2L647.9 820.9L653.6 812.9Z" fill="#000" stroke="none"/>
<path d="M666.7 828.2L670.5 831.2" stroke-width="1.9"/>
<g transform="translate(628 769) rotate(36) translate(0 15.8)"><text x="-43" font-size="44.2" stroke-width="0.3">44.5</text></g>
<path d="M651.5 900.5L826 878.6" stroke-width="1.9"/>
<path d="M651.5 900.5L670.2 893.2L671.5 902.9Z" fill="#000" stroke="none"/>
<path d="M826 878.6L807.3 885.9L806 876.2Z" fill="#000" stroke="none"/>
<g transform="translate(735 866.5) rotate(-7) translate(0 15.8)"><text x="-24.6" font-size="44.2" stroke-width="0.3">30</text></g>
<path d="M804 916.5L804 1034.7" stroke-width="1.9"/>
<path d="M804.5 916.5L809.4 936L799.6 936Z" fill="#000" stroke="none"/>
<path d="M804.5 1034.7L799.6 1015.2L809.4 1015.2Z" fill="#000" stroke="none"/>
<g transform="translate(797.5 976.5) rotate(-90)"><path transform="translate(-43.4 0) scale(0.02178 -0.02178)" d="M763 0H583V1147Q518 1085 412.5 1023Q307 961 223 930V1104Q374 1175 487 1276Q600 1377 647 1472H763Z" fill="#000" stroke-width="13.8"/><text x="-18.6" font-size="44.6" stroke-width="0.3">8.6</text></g>
<path d="M804 1048L804 1166" stroke-width="1.9"/>
<path d="M804.5 1048L809.4 1067.5L799.6 1067.5Z" fill="#000" stroke="none"/>
<path d="M804.5 1166L799.6 1146.5L809.4 1146.5Z" fill="#000" stroke="none"/>
<g transform="translate(796 1106.5) rotate(-90)"><text x="-25.3" font-size="45.5" stroke-width="0.3">2</text><path transform="translate(0 0) scale(0.02222 -0.02222)" d="M763 0H583V1147Q518 1085 412.5 1023Q307 961 223 930V1104Q374 1175 487 1276Q600 1377 647 1472H763Z" fill="#000" stroke-width="13.5"/></g>
<path d="M186.6 1193L297 1273" stroke-width="1.9"/>
<path d="M186.6 1193L205.3 1200.5L199.5 1208.4Z" fill="#000" stroke="none"/>
<path d="M297 1273L278.3 1265.5L284.1 1257.6Z" fill="#000" stroke="none"/>
<g transform="translate(218 1253.5) rotate(36) translate(0 16.1)"><text x="-25" font-size="45" stroke-width="0.3">45</text></g>
<path d="M297 1273L680 1225.4" stroke-width="1.9"/>
<path d="M297 1273L315.7 1265.7L317 1275.5Z" fill="#000" stroke="none"/>
<path d="M680 1225.4L661.3 1232.7L660 1222.9Z" fill="#000" stroke="none"/>
<g transform="translate(492 1271) rotate(-7) translate(0 15.8)"><text x="-24.6" font-size="44.2" stroke-width="0.3">65</text></g>
<path d="M689 1224.4L846 1205" stroke-width="1.9"/>
<path d="M689 1224.4L707.8 1217.1L709 1226.9Z" fill="#000" stroke="none"/>
<path d="M846 1205L827.2 1212.3L826 1202.5Z" fill="#000" stroke="none"/>
<g transform="translate(773 1237.5) rotate(-7) translate(0 15.8)"><text x="-43" font-size="44.2" stroke-width="0.3">26.4</text></g>
<path d="M296 1337L856 1267.4" stroke-width="1.9"/>
<path d="M296 1337L314.7 1329.7L316 1339.5Z" fill="#000" stroke="none"/>
<path d="M856 1267.4L837.3 1274.7L836 1264.9Z" fill="#000" stroke="none"/>
<g transform="translate(588.5 1328) rotate(-7) translate(0 16)"><text x="-60.7" font-size="44.6" stroke-width="0.3">95&#160;cm</text></g>
<text transform="translate(308.6 1065.7) rotate(-1.1)" font-size="24.6" stroke="#000" stroke-width="0.9" stroke-linejoin="round" textLength="358" lengthAdjust="spacingAndGlyphs">Innenmaße der Schublade</text>
<text transform="translate(308.6 1097.6) rotate(-1.1)" font-size="24.6" stroke="#000" stroke-width="0.9" stroke-linejoin="round" textLength="205" lengthAdjust="spacingAndGlyphs">Breite: 58.6 cm</text>
<text transform="translate(308.6 1129.8) rotate(-1.1)" font-size="24.6" stroke="#000" stroke-width="0.9" stroke-linejoin="round" textLength="190.3" lengthAdjust="spacingAndGlyphs">Tiefe: 32.2 cm</text>
<text transform="translate(308.6 1161.8) rotate(-1.1)" font-size="24.6" stroke="#000" stroke-width="0.9" stroke-linejoin="round" textLength="164.5" lengthAdjust="spacingAndGlyphs">Höhe: 17 cm</text>
</svg>
</body></html>
